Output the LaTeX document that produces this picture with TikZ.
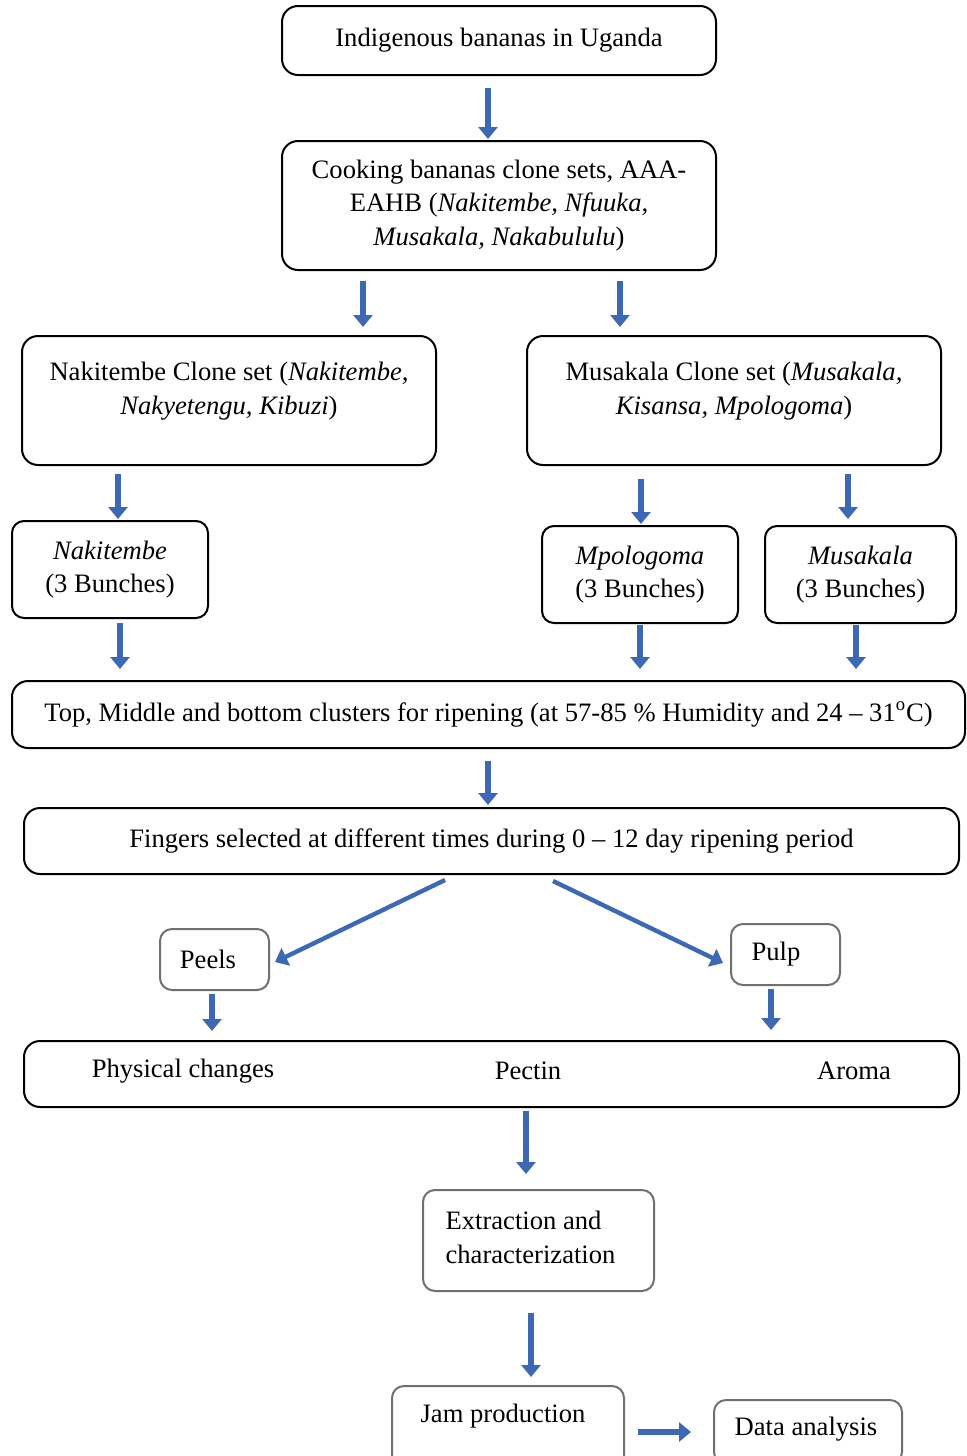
\documentclass[tikz,border=0pt]{standalone}
\usepackage{fontspec}
\setmainfont{Liberation Serif}
\usepackage{tikz}
\usetikzlibrary{arrows.meta, positioning, calc}
\definecolor{arrowblue}{RGB}{61,104,180}
\definecolor{boxgray}{RGB}{112,112,112}

\begin{document}
\begin{tikzpicture}[
    x=0.5pt, y=-0.5pt,
    font=\fontsize{13.3}{16.7}\selectfont,
    base/.style={rectangle, draw=black, line width=1pt, rounded corners=8pt, align=center, fill=white},
    small/.style={base, rounded corners=6pt},
    soft/.style={small, draw=boxgray},
    lbl/.style={align=center, inner sep=0pt},
    arrow/.style={-{Triangle[length=6pt, width=9.5pt]}, line width=2.8pt, draw=arrowblue, fill=arrowblue}
]
\useasboundingbox (0,0) rectangle (966,1456);

% Origin
\node[base, minimum width=217pt, minimum height=34.5pt] (indig) at (499,40.5) {Indigenous bananas in Uganda};
\node[base, minimum width=217pt, minimum height=64.5pt] (cooking) at (499,205.5) {Cooking bananas clone sets, AAA-\\EAHB (\textit{Nakitembe, Nfuuka,}\\\textit{Musakala, Nakabululu})};

% Clone sets
\node[base, minimum width=207pt, minimum height=64.5pt] (nakset) at (229,400.5) {};
\node[lbl] (naksettxt) at (229,391) {Nakitembe Clone set (\textit{Nakitembe,}\\\textit{Nakyetengu, Kibuzi})};
\node[base, minimum width=207pt, minimum height=64.5pt] (musset) at (734,400.5) {};
\node[lbl] (mussettxt) at (734,391) {Musakala Clone set (\textit{Musakala,}\\\textit{Kisansa, Mpologoma})};

% Bunches
\node[small, minimum width=98pt, minimum height=48.5pt] (nakb) at (110,569.5) {\textit{Nakitembe}\\(3 Bunches)};
\node[small, minimum width=98pt, minimum height=48.5pt] (mpob) at (640,574.5) {\textit{Mpologoma}\\(3 Bunches)};
\node[small, minimum width=95.5pt, minimum height=48.5pt] (musb) at (860.5,574.5) {\textit{Musakala}\\(3 Bunches)};

% Ripening
\node[base, minimum width=476.5pt, minimum height=33.5pt] (ripen) at (488.5,714.5) {Top, Middle and bottom clusters for ripening (at 57-85 \% Humidity and 24 -- 31\textsuperscript{o}C)};
\node[base, minimum width=467.5pt, minimum height=33pt] (finger) at (491.5,841) {Fingers selected at different times during 0 -- 12 day ripening period};

\node[soft, minimum width=54.5pt, minimum height=30.5pt] (peels) at (214.5,959.5) {};
\node[lbl] (peelstxt) at (208,959) {Peels};
\node[soft, minimum width=54.5pt, minimum height=30.5pt] (pulp) at (785.5,954.5) {};
\node[lbl] (pulptxt) at (776,954) {Pulp};

% Analysis
\node[base, minimum width=467.5pt, minimum height=33pt] (props) at (491.5,1074) {};
\node[lbl] (phys) at (183,1071) {Physical changes};
\node[lbl] (pectin) at (528,1071) {Pectin};
\node[lbl] (aroma) at (854,1071) {Aroma};

\node[soft, minimum width=115.5pt, minimum height=50.5pt] (extract) at (538.5,1240.5) {};
\node[lbl, align=left] (extracttxt) at (530.5,1237.5) {Extraction and\\characterization};

\node[soft, minimum width=116pt, minimum height=46pt] (jam) at (508,1432) {};
\node[lbl] (jamtxt) at (503,1416) {Jam production};
\node[soft, minimum width=94pt, minimum height=32pt] (data) at (808,1432) {};
\node[lbl] (datatxt) at (806,1429) {Data analysis};

% Arrows
\draw[arrow, shorten <=6pt, shorten >=0.5pt] ($(indig.south)+(-5.5pt,0)$) -- ($(cooking.north)+(-5.5pt,0)$);
\draw[arrow, shorten <=5pt, shorten >=4pt] ($(cooking.south)+(-68pt,0)$) -- ($(nakset.north)+(67pt,0)$);
\draw[arrow, shorten <=5pt, shorten >=4pt] ($(cooking.south)+(60.5pt,0)$) -- ($(musset.north)+(-57pt,0)$);
\draw[arrow, shorten <=4pt, shorten >=0.5pt] ($(nakset.south)+(-55.5pt,0)$) -- ($(nakb.north)+(4pt,0)$);
\draw[arrow, shorten <=6.5pt, shorten >=0.5pt] ($(musset.south)+(-46.5pt,0)$) -- ($(mpob.north)+(0.5pt,0)$);
\draw[arrow, shorten <=4pt, shorten >=3pt] ($(musset.south)+(57pt,0)$) -- ($(musb.north)+(-6.25pt,0)$);
\draw[arrow, shorten <=2pt, shorten >=5.5pt] ($(nakb.south)+(5pt,0)$) -- ($(ripen.north)+(-184.25pt,0)$);
\draw[arrow, shorten <=0.5pt, shorten >=5.5pt] (mpob.south) -- ($(ripen.north)+(75.75pt,0)$);
\draw[arrow, shorten <=0.5pt, shorten >=5.5pt] ($(musb.south)+(-2.25pt,0)$) -- ($(ripen.north)+(183.75pt,0)$);
\draw[arrow, shorten <=6pt, shorten >=1pt] ($(ripen.south)+(-0.25pt,0)$) -- ($(finger.north)+(-1.75pt,0)$);
\draw[arrow, line width=2.2pt] ($(finger.south)+(-23.25pt,-2.5pt)$) -- ($(peels.east)+(2.5pt,-1.25pt)$);
\draw[arrow, line width=2.2pt] ($(finger.south)+(30.75pt,-3pt)$) -- ($(pulp.west)+(-3.5pt,-4.25pt)$);
\draw[arrow, shorten <=1.5pt, shorten >=4.5pt] ($(peels.south)+(-1.25pt,0)$) -- ($(props.north)+(-139.75pt,0)$);
\draw[arrow, shorten <=1.5pt, shorten >=5pt] ($(pulp.south)+(-7.25pt,0)$) -- ($(props.north)+(139.75pt,0)$);
\draw[arrow, shorten <=1.5pt, shorten >=7.5pt] ($(props.south)+(17.25pt,0)$) -- ($(extract.north)+(-6.25pt,0)$);
\draw[arrow, shorten <=10.5pt, shorten >=4pt] ($(extract.south)+(-3.75pt,0)$) -- ($(jam.north)+(11.5pt,0)$);
\draw[arrow, shorten <=6.5pt, shorten >=11pt] (jam.east) -- (data.west);

\end{tikzpicture}
\end{document}
